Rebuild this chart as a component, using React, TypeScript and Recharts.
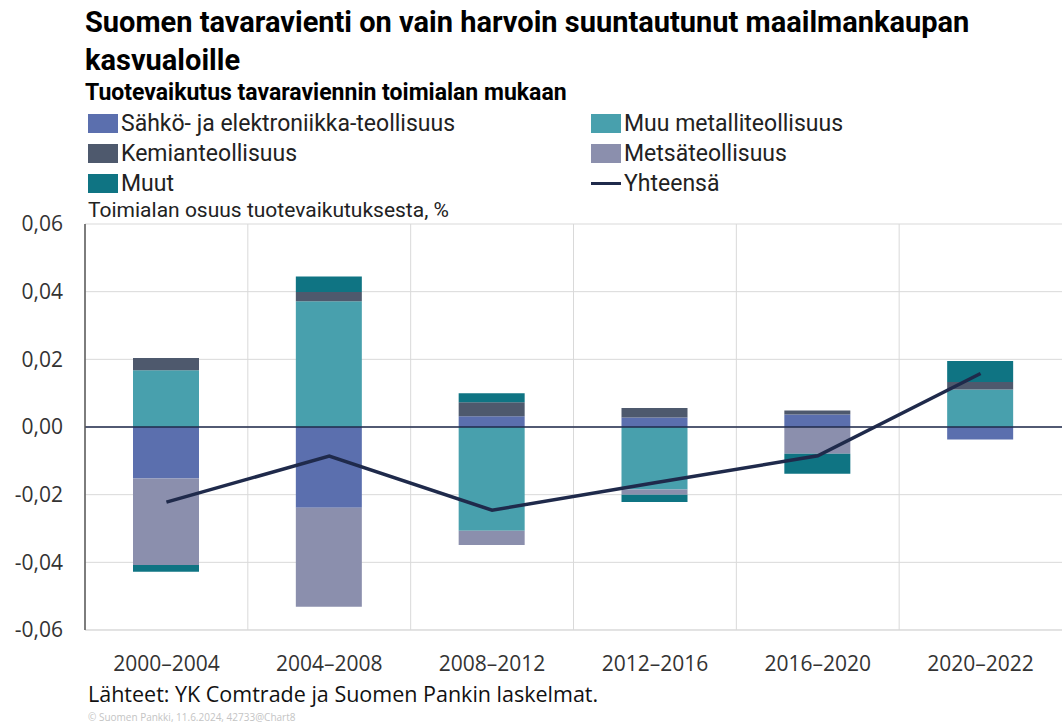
import {
  Bar,
  CartesianGrid,
  ComposedChart,
  Line,
  ReferenceLine,
  XAxis,
  YAxis,
} from 'recharts'

const categories = ['2000–2004', '2004–2008', '2008–2012', '2012–2016', '2016–2020', '2020–2022']
const sahko = [-0.0152, -0.0239, 0.0032, 0.0028, 0.0037, -0.0037]
const muuMetalli = [0.0168, 0.0372, -0.0307, -0.0185, 0, 0.0111]
const kemia = [0.0036, 0.0027, 0.0041, 0.0028, 0.0012, 0.0022]
const metsa = [-0.0256, -0.0292, -0.0042, -0.0015, -0.0079, 0]
const muut = [-0.002, 0.0046, 0.0027, -0.0022, -0.0059, 0.0062]
const yhteensa = [-0.0222, -0.0086, -0.0246, -0.0165, -0.0085, 0.0158]
const yTicks = [-0.06, -0.04, -0.02, 0, 0.02, 0.04, 0.06]

const series = [
  { key: 'sahko', name: 'Sähkö- ja elektroniikka-teollisuus', color: '#5b6fae' },
  { key: 'muuMetalli', name: 'Muu metalliteollisuus', color: '#48a0ad' },
  { key: 'kemia', name: 'Kemianteollisuus', color: '#4e596d' },
  { key: 'metsa', name: 'Metsäteollisuus', color: '#8b8fad' },
  { key: 'muut', name: 'Muut', color: '#0f7483' },
]
const lineColor = '#1f2a4b'

const data = categories.map((period, i) => ({
  period,
  sahko: sahko[i],
  muuMetalli: muuMetalli[i],
  kemia: kemia[i],
  metsa: metsa[i],
  muut: muut[i],
  yhteensa: yhteensa[i],
}))

const legendItems = [
  ...series.map((s) => ({ name: s.name, color: s.color, line: false })),
  { name: 'Yhteensä', color: lineColor, line: true },
]

const calibriLike = 'Roboto, "Liberation Sans", sans-serif'
const segoeLike = '"Open Sans", "Noto Sans", sans-serif'

const fmt = (v: number) => v.toFixed(2).replace('.', ',')

export default function App() {
  return (
    <div
      style={{
        position: 'absolute',
        left: 0,
        top: 0,
        width: 1062,
        height: 724,
        background: '#fff',
        overflow: 'hidden',
        fontFamily: calibriLike,
        color: '#000',
      }}
    >
      <div
        style={{
          position: 'absolute',
          left: 85,
          top: 3,
          fontSize: 29,
          fontWeight: 700,
          lineHeight: '38px',
          width: 1000,
        }}
      >
        Suomen tavaravienti on vain harvoin suuntautunut maailmankaupan
        <br />
        kasvualoille
      </div>
      <div
        style={{
          position: 'absolute',
          left: 85,
          top: 79,
          fontSize: 23,
          fontWeight: 700,
        }}
      >
        Tuotevaikutus tavaraviennin toimialan mukaan
      </div>
      {legendItems.map((item, i) => {
        const col = i % 2
        const row = Math.floor(i / 2)
        return (
          <div
            key={item.name}
            style={{
              position: 'absolute',
              left: col === 0 ? 88 : 591,
              top: 109 + row * 30,
              height: 28,
              display: 'flex',
              alignItems: 'center',
              fontSize: 23,
              color: '#222',
            }}
          >
            {item.line ? (
              <span style={{ width: 30, height: 3, background: item.color, marginRight: 3 }} />
            ) : (
              <span style={{ width: 30, height: 19, background: item.color, marginRight: 3 }} />
            )}
            {item.name}
          </div>
        )
      })}
      <div
        style={{
          position: 'absolute',
          left: 88,
          top: 198,
          fontSize: 21,
          color: '#222',
        }}
      >
        Toimialan osuus tuotevaikutuksesta, %
      </div>

      <ComposedChart
        width={1062}
        height={724}
        data={data}
        stackOffset="sign"
        margin={{ top: 224, right: 0, left: 0, bottom: 0 }}
        style={{ position: 'absolute', left: 0, top: 0 }}
      >
        <CartesianGrid
          stroke="#d9d9d9"
          verticalCoordinatesGenerator={({ offset }: any) =>
            categories.map((_, i) => offset.left + (i * offset.width) / categories.length)
          }
        />
        <XAxis
          dataKey="period"
          height={94}
          axisLine={{ stroke: '#d9d9d9' }}
          tickLine={false}
          tickMargin={20}
          tick={{ fill: '#333', fontSize: 21, fontFamily: segoeLike }}
          interval={0}
        />
        <YAxis
          type="number"
          domain={[-0.06, 0.06]}
          ticks={yTicks}
          width={85}
          axisLine={{ stroke: '#595959', strokeWidth: 1.5 }}
          tickLine={false}
          tickSize={0}
          tickMargin={22}
          tickFormatter={fmt}
          tick={{ fill: '#333', fontSize: 21, fontFamily: segoeLike }}
        />
        <ReferenceLine y={0} stroke={lineColor} strokeWidth={1.5} />
        {series.map((s) => (
          <Bar
            key={s.key}
            dataKey={s.key}
            name={s.name}
            stackId="a"
            fill={s.color}
            barSize={66}
            isAnimationActive={false}
          />
        ))}
        <Line
          dataKey="yhteensa"
          name="Yhteensä"
          type="linear"
          stroke={lineColor}
          strokeWidth={3.5}
          dot={false}
          isAnimationActive={false}
        />
      </ComposedChart>

      <div
        style={{
          position: 'absolute',
          left: 88,
          top: 679,
          fontSize: 21.5,
          fontFamily: segoeLike,
          color: '#111',
        }}
      >
        Lähteet: YK Comtrade ja Suomen Pankin laskelmat.
      </div>
      <div
        style={{
          position: 'absolute',
          left: 88,
          top: 710,
          fontSize: 10,
          fontFamily: segoeLike,
          color: '#c4c4c4',
        }}
      >
        © Suomen Pankki, 11.6.2024, 42733@Chart8
      </div>
    </div>
  )
}
